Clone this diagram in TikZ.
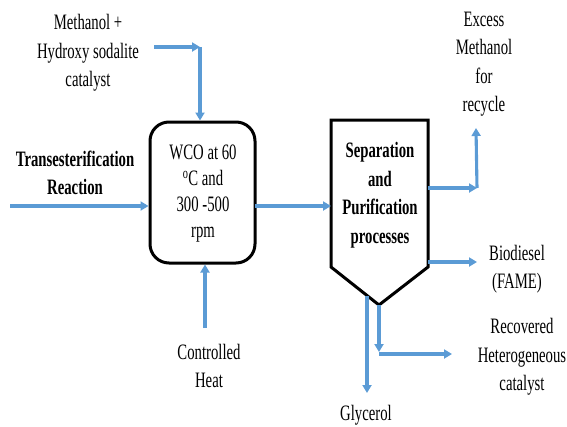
\documentclass[tikz,border=0pt]{standalone}
\usepackage{fontspec}
\setmainfont{Liberation Serif}[FakeStretch=0.67]
\usetikzlibrary{arrows.meta}
\definecolor{flowblue}{RGB}{91,155,213}
\begin{document}
\begin{tikzpicture}[x=1pt,y=-1pt,
  lbl/.style={align=center,inner sep=0pt,font=\fontsize{22}{28.5}\selectfont},
  blbl/.style={lbl,font=\fontsize{22}{28.5}\selectfont\bfseries},
  flow/.style={draw=flowblue,line width=3.1pt,-{Triangle[length=8pt,width=9pt]}},
  unitbox/.style={draw=black,line width=3pt}]
\useasboundingbox (0,0) rectangle (567,426);
% reactor
\node[unitbox,rounded corners=19pt,minimum width=105pt,minimum height=141pt,inner sep=0pt] (reactor) at (202.5,192.5) {};
\node[lbl,font=\fontsize{22}{26}\selectfont] (rtext) at (203,194) {WCO at 60\\\textsuperscript{o}C and\\300 -500\\rpm};
% separator
\coordinate (s1) at (331,120);
\coordinate (s2) at (428,120);
\coordinate (s3) at (428,267);
\coordinate (s4) at (379,305);
\coordinate (s5) at (331,267);
\draw[unitbox,line join=miter] (s1) -- (s2) -- (s3) -- (s4) -- (s5) -- cycle;
\node[blbl] (stext) at (380,195) {Separation\\and\\Purification\\processes};
% labels
\node[blbl] (trans) at (75,173) {Transesterification\\Reaction};
\node[lbl] (meth) at (88,53) {Methanol +\\Hydroxy sodalite\\catalyst};
\node[lbl] (excess) at (484,64) {Excess\\Methanol\\for\\recycle};
\node[lbl] (bio) at (517,269) {Biodiesel\\(FAME)};
\node[lbl] (recov) at (522,357) {Recovered\\Heterogeneous\\catalyst};
\node[lbl] (heat) at (209,366) {Controlled\\Heat};
\node[lbl] (glyc) at (366,415) {Glycerol};
% connectors
\coordinate (inL) at (10,206);
\draw[flow] (inL) -- (inL -| reactor.west);
\coordinate (m0) at (154,47);
\coordinate (m1) at (200,47);
\draw[flow] (m0) -- (m1);
\draw[flow] (m1) -- (m1 |- reactor.north);
\coordinate (r0) at (255,206);
\draw[flow] (r0) -- (r0 -| s1);
\coordinate (h0) at (205,328);
\draw[flow] (h0) -- (h0 |- reactor.south);
\coordinate (e0) at (428,188);
\coordinate (e1) at (477,188);
\coordinate (e2) at (476,128);
\draw[flow] (e0) -- (e1);
\draw[flow] (e1 |- e0) -- (e2);
\coordinate (b0) at (428,262);
\coordinate (b1) at (477,262);
\draw[flow] (b0) -- (b1);
\coordinate (g0) at (367,296);
\coordinate (g1) at (367,393);
\draw[flow] (g0) -- (g1);
\coordinate (c1) at (379,352);
\coordinate (c2) at (379,354);
\coordinate (c3) at (452,354);
\draw[flow] (s4) -- (c1);
\draw[flow] (c2) -- (c3);
\end{tikzpicture}
\end{document}
